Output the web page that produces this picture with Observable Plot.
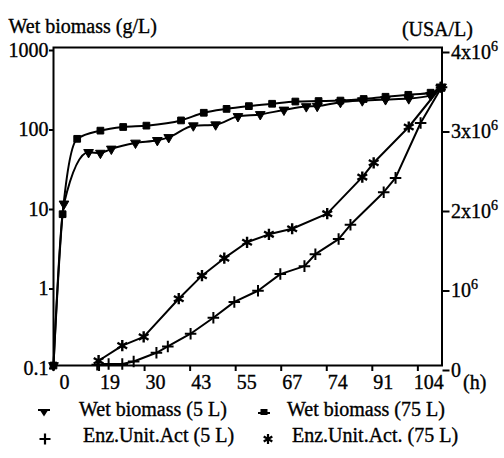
<!DOCTYPE html>
<html><head><meta charset="utf-8">
<script src="https://cdn.jsdelivr.net/npm/d3@7"></script>
<script src="https://cdn.jsdelivr.net/npm/@observablehq/plot@0.6"></script>
<style>
body{margin:0;background:#fff;}
#wrap{width:504px;height:458px;position:relative;font-family:"Liberation Serif","Times New Roman",Times,"DejaVu Serif",serif;color:#000;background:#fff;overflow:hidden;}
#legend{position:relative;width:504px;height:63px;font-size:20px;line-height:20px;}
.lt{position:absolute;white-space:nowrap;-webkit-text-stroke:0.35px #000;}
.ls{position:absolute;width:24px;height:24px;}
#chart svg text{font-family:"Liberation Serif","Times New Roman",Times,"DejaVu Serif",serif;stroke:#000;stroke-width:0.35px;}
</style></head><body><div id="wrap"><div id="chart"></div><div id="legend"></div></div>
<script>
// x axis: evenly spaced ticks labelled with sampling times (h)
const xTickPositions = [0, 1, 2, 3, 4, 5, 6, 7, 8];
const xTickLabels = ["0", "19", "30", "43", "55", "67", "74", "91", "104"];
const leftTicks = [0.1, 1, 10, 100, 1000];
const leftTickLabels = ["0.1", "1", "10", "100", "1000"];
const rightTicks = [0, 1e6, 2e6, 3e6, 4e6];
const rightTickLabels = ["0", "10⁶", "2x10⁶", "3x10⁶", "4x10⁶"];

// Wet biomass 75 L (squares), g/L
const bio75X = [0, 0.2, 0.52, 1.03, 1.53, 2.04, 2.80, 3.30, 3.80, 4.29, 4.80, 5.31, 5.82, 6.30, 6.81, 7.29, 7.79, 8.28, 8.52];
const bio75Y = [0.1, 8, 71, 90, 100, 104, 121, 151, 169, 183, 196, 209, 212, 215, 225, 240, 254, 270, 310];
// Wet biomass 5 L (down triangles), g/L
const bio5X = [0, 0.23, 0.77, 1.03, 1.27, 1.80, 2.28, 2.53, 3.07, 3.56, 4.05, 4.54, 5.06, 5.55, 5.79, 6.30, 6.78, 7.29, 7.80, 8.28, 8.52];
const bio5Y = [0.1, 10.8, 48, 47, 53, 63, 68, 74, 104, 107, 136, 144, 164, 181, 183, 205, 215, 222, 228, 250, 320];
// Enz. Unit Act. 75 L (asterisks), USA/L
const enz75X = [0.99, 1.51, 1.98, 2.75, 3.26, 3.75, 4.25, 4.73, 5.24, 6.01, 6.78, 7.03, 7.80, 8.50];
const enz75Y = [60000, 250000, 360000, 840000, 1130000, 1350000, 1550000, 1650000, 1720000, 1910000, 2370000, 2550000, 3000000, 3500000];
// Enz. Unit Act. 5 L (plus), USA/L
const enz5X = [0.96, 1.21, 1.51, 1.76, 2.26, 2.51, 3.01, 3.51, 3.97, 4.49, 4.98, 5.51, 5.75, 6.26, 6.52, 7.25, 7.51, 8.06, 8.52];
const enz5Y = [10000, 20000, 20000, 50000, 160000, 240000, 400000, 600000, 800000, 940000, 1150000, 1250000, 1400000, 1590000, 1770000, 2180000, 2360000, 3050000, 3500000];

// right (linear 0..4e6) axis shares the frame with the left log axis (0.1..1000)
const enzToLeft = e => Math.pow(10, -1 + e / 1e6);
const pick = (vals, labels) => d => { const i = vals.findIndex(v => Math.abs(v - d) <= 1e-9 * Math.max(1, v)); return i < 0 ? "" : labels[i]; };

const bio75 = bio75X.map((x, i) => ({x, y: bio75Y[i]}));
const bio5 = bio5X.map((x, i) => ({x, y: bio5Y[i]}));
const enz75 = enz75X.map((x, i) => ({x, y: enzToLeft(enz75Y[i])}));
const enz5 = enz5X.map((x, i) => ({x, y: enzToLeft(enz5Y[i])}));
const rightPos = rightTicks.map(enzToLeft);

const chart = Plot.plot({
  width: 504, height: 395,
  marginLeft: 53, marginRight: 62.5, marginTop: 47, marginBottom: 30,
  style: {fontFamily: "'Liberation Serif', 'Times New Roman', Times, 'DejaVu Serif', serif", fontSize: "20px", color: "#000", background: "#fff", overflow: "visible"},
  x: {domain: [0, 8.53]},
  y: {type: "log", domain: [0.1, 1000]},
  marks: [
    Plot.axisX({ticks: xTickPositions, tickFormat: () => "", tickSize: 6, strokeWidth: 2, label: null}),
    Plot.axisX({ticks: xTickPositions, tickFormat: pick(xTickPositions, xTickLabels), tickSize: 0, tickPadding: 9, dx: 11, label: null}),
    Plot.axisY({anchor: "left", ticks: leftTicks, tickFormat: pick(leftTicks, leftTickLabels), tickSize: 4, tickPadding: 1, strokeWidth: 2, dy: 3, label: null}),
    Plot.axisY({anchor: "right", ticks: rightPos, tickFormat: pick(rightPos, rightTickLabels), tickSize: 7, tickPadding: 2, strokeWidth: 2, dy: 5, label: null}),
    Plot.frame({strokeWidth: 2}),
    Plot.text(["Wet biomass (g/L)"], {frameAnchor: "top-left", dx: -45, dy: -15, textAnchor: "start", lineAnchor: "bottom"}),
    Plot.text(["(USA/L)"], {frameAnchor: "top-right", dx: 31, dy: -12, textAnchor: "end", lineAnchor: "bottom"}),
    Plot.text(["(h)"], {frameAnchor: "bottom-right", dx: 21, dy: 9, textAnchor: "start", lineAnchor: "top"}),
    Plot.line(bio75, {x: "x", y: "y", stroke: "#000", strokeWidth: 2, curve: "monotone-x"}),
    Plot.line(bio5, {x: "x", y: "y", stroke: "#000", strokeWidth: 2, curve: "monotone-x"}),
    Plot.line(enz75, {x: "x", y: "y", stroke: "#000", strokeWidth: 2}),
    Plot.line(enz5, {x: "x", y: "y", stroke: "#000", strokeWidth: 2}),
    Plot.dot(bio75, {x: "x", y: "y", symbol: "square", r: 3.8, fill: "#000", stroke: "#000", strokeWidth: 1}),
    Plot.dot(bio5, {x: "x", y: "y", symbol: "triangle", rotate: 180, r: 3.6, fill: "#000", stroke: "#000", strokeWidth: 1}),
    Plot.dot(enz75, {x: "x", y: "y", symbol: "asterisk", r: 5.3, stroke: "#000", strokeWidth: 2.4}),
    Plot.dot(enz5, {x: "x", y: "y", symbol: "plus", r: 3.8, stroke: "#000", strokeWidth: 2})
  ]
});
document.getElementById("chart").appendChild(chart);

// render the "⁶" of the right-axis labels as a raised, larger superscript
const svgNS = "http://www.w3.org/2000/svg";
chart.querySelectorAll("text").forEach(t => {
  const s = t.textContent;
  if (s.endsWith("⁶") && t.children.length === 0) {
    t.textContent = s.slice(0, -1);
    const sup = document.createElementNS(svgNS, "tspan");
    sup.setAttribute("dy", "-8");
    sup.setAttribute("font-size", "14");
    sup.textContent = "6";
    t.appendChild(sup);
  }
});

// legend
const legendItems = [
  {label: "Wet biomass (5 L)", sym: "tri", sx: 44, sy: 17, tx: 79, ty: 4},
  {label: "Wet biomass (75 L)", sym: "sq", sx: 264, sy: 17, tx: 287, ty: 4},
  {label: "Enz.Unit.Act (5 L)", sym: "plus", sx: 45, sy: 44, tx: 83, ty: 30},
  {label: "Enz.Unit.Act. (75 L)", sym: "star", sx: 268, sy: 44, tx: 292, ty: 30}
];
const glyph = {
  tri: '<path d="M6,10H18" stroke="#000" stroke-width="2"/><path d="M7.5,9.5H16.5L12,16.5Z" fill="#000"/>',
  sq: '<path d="M6,13H18" stroke="#000" stroke-width="2"/><rect x="8.5" y="9" width="7" height="6" fill="#000"/>',
  plus: '<path d="M6.5,12H17.5M12,6.5V17.5" stroke="#000" stroke-width="2.2"/>',
  star: '<path d="M12,7V17M7.7,9.5L16.3,14.5M7.7,14.5L16.3,9.5" stroke="#000" stroke-width="2.2"/>'
};
const lg = document.getElementById("legend");
for (const it of legendItems) {
  const s = document.createElement("div");
  s.className = "ls"; s.style.left = (it.sx - 12) + "px"; s.style.top = (it.sy - 12) + "px";
  s.innerHTML = '<svg width="24" height="24" viewBox="0 0 24 24">' + glyph[it.sym] + '</svg>';
  lg.appendChild(s);
  const t = document.createElement("div");
  t.className = "lt"; t.style.left = it.tx + "px"; t.style.top = it.ty + "px";
  t.textContent = it.label;
  lg.appendChild(t);
}
</script></body></html>
